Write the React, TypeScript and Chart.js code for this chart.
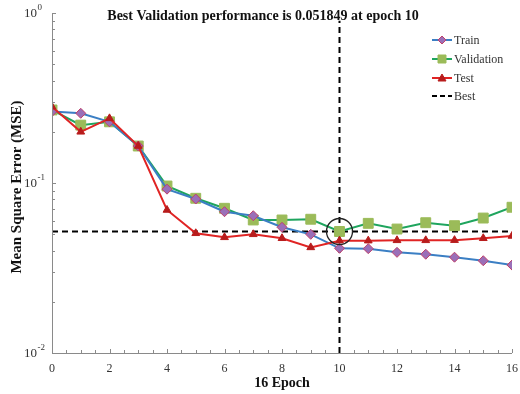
import React, { useEffect, useRef } from "react";
import { Chart, registerables } from "chart.js";
Chart.register(...registerables);

const epochs = [0, 1, 2, 3, 4, 5, 6, 7, 8, 9, 10, 11, 12, 13, 14, 15, 16];
const trainMSE = [0.263, 0.257, 0.229, 0.165, 0.092, 0.0805, 0.0678, 0.0642, 0.0549, 0.0499, 0.0413, 0.0411, 0.0391, 0.0381, 0.0366, 0.0349, 0.0329];
const validationMSE = [0.269, 0.219, 0.229, 0.165, 0.096, 0.0813, 0.071, 0.0606, 0.0606, 0.0612, 0.051849, 0.0579, 0.0536, 0.0584, 0.0561, 0.0622, 0.072];
const testMSE = [0.281, 0.2, 0.24, 0.165, 0.0694, 0.0506, 0.0479, 0.0499, 0.0473, 0.0418, 0.0458, 0.0458, 0.046, 0.046, 0.0461, 0.0473, 0.0488];
const bestEpoch = 10;
const bestValue = 0.051849;
const bestLineTop = 0.9;
const xMin = 0;
const xMax = 16;
const yMin = 0.01;
const yMax = 1;
const xTickLabels = ["0", "2", "4", "6", "8", "10", "12", "14", "16"];
const yDecadeExponents = ["-2", "-1", "0"];
const titleText = "Best Validation performance is 0.051849 at epoch 10";
const xTitle = "16 Epoch";
const yTitle = "Mean Square Error (MSE)";
const legendLabels = ["Train", "Validation", "Test", "Best"];

const SERIF = '"Liberation Serif", "Times New Roman", serif';

const TRAIN_LINE = "#3b7fc4";
const TRAIN_PT = "#9a6fb8";
const TRAIN_PT_BORDER = "#c0406a";
const VAL_LINE = "#1fa55e";
const VAL_PT = "#9bbb59";
const TEST_LINE = "#e02424";
const TEST_PT = "#b81c1c";

const toXY = (arr: number[]) => arr.map((v, i) => ({ x: epochs[i], y: v }));

export default function App() {
  const ref = useRef<HTMLCanvasElement | null>(null);

  useEffect(() => {
    if (!ref.current) return;

    const overlay = {
      id: "overlay",
      afterDraw(chart: any) {
        const ctx = chart.ctx as CanvasRenderingContext2D;
        const xs = chart.scales.x;
        const ys = chart.scales.y;
        const a = chart.chartArea;
        ctx.save();
        // axes
        ctx.strokeStyle = "#8a8a8a";
        ctx.lineWidth = 1;
        ctx.beginPath();
        ctx.moveTo(a.left + 0.5, a.top);
        ctx.lineTo(a.left + 0.5, a.bottom + 0.5);
        ctx.lineTo(a.right, a.bottom + 0.5);
        ctx.stroke();
        // x ticks (inward), every 0.5
        ctx.beginPath();
        for (let t = xMin; t <= xMax + 1e-9; t += 0.5) {
          const px = Math.round(xs.getPixelForValue(t)) + 0.5;
          const len = Math.abs(t % 2) < 1e-9 ? 4 : 3;
          ctx.moveTo(px, a.bottom);
          ctx.lineTo(px, a.bottom - len);
        }
        // y ticks (inward), log minor
        for (let e = -2; e <= 0; e++) {
          for (let m = 1; m <= 9; m++) {
            const v = m * Math.pow(10, e);
            if (v > yMax + 1e-12) break;
            const py = Math.round(ys.getPixelForValue(v)) + 0.5;
            const len = m === 1 ? 4 : 3;
            ctx.moveTo(a.left, py);
            ctx.lineTo(a.left + len, py);
          }
        }
        ctx.stroke();

        // x tick labels
        ctx.fillStyle = "#333";
        ctx.font = `12px ${SERIF}`;
        ctx.textAlign = "center";
        ctx.textBaseline = "middle";
        xTickLabels.forEach((l) => {
          ctx.fillText(l, xs.getPixelForValue(Number(l)), a.bottom + 16);
        });
        // y tick labels 10^e
        yDecadeExponents.forEach((ex) => {
          const py = ys.getPixelForValue(Math.pow(10, Number(ex)));
          ctx.font = `13px ${SERIF}`;
          ctx.textAlign = "right";
          ctx.textBaseline = "middle";
          ctx.fillText("10", 37, py + 1);
          ctx.font = `9px ${SERIF}`;
          ctx.textAlign = "left";
          ctx.fillText(ex, 37.5, py - 5);
        });

        // titles
        ctx.fillStyle = "#111";
        ctx.font = `bold 14px ${SERIF}`;
        ctx.textAlign = "center";
        ctx.textBaseline = "middle";
        ctx.fillText(titleText, 263, 16);
        ctx.fillText(xTitle, 282, a.bottom + 30);
        ctx.save();
        ctx.translate(17.5, 187);
        ctx.rotate(-Math.PI / 2);
        ctx.font = `bold 15px ${SERIF}`;
        ctx.fillText(yTitle, 0, 0);
        ctx.restore();

        // legend
        const lx0 = 432;
        const lx1 = 452;
        const rows = [40, 59, 78, 96];
        ctx.font = `12px ${SERIF}`;
        ctx.textAlign = "left";
        ctx.textBaseline = "middle";
        const drawMarker = (i: number, cx: number, cy: number) => {
          ctx.beginPath();
          if (i === 0) {
            ctx.fillStyle = TRAIN_PT;
            ctx.strokeStyle = TRAIN_PT_BORDER;
            ctx.moveTo(cx, cy - 4);
            ctx.lineTo(cx + 4, cy);
            ctx.lineTo(cx, cy + 4);
            ctx.lineTo(cx - 4, cy);
            ctx.closePath();
          } else if (i === 1) {
            ctx.fillStyle = VAL_PT;
            ctx.strokeStyle = VAL_PT;
            ctx.rect(cx - 4, cy - 4, 8, 8);
          } else {
            ctx.fillStyle = TEST_PT;
            ctx.strokeStyle = TEST_PT;
            ctx.moveTo(cx, cy - 4);
            ctx.lineTo(cx + 4, cy + 3);
            ctx.lineTo(cx - 4, cy + 3);
            ctx.closePath();
          }
          ctx.fill();
          ctx.lineWidth = 1;
          ctx.stroke();
        };
        const lineColors = [TRAIN_LINE, VAL_LINE, TEST_LINE, "#000"];
        legendLabels.forEach((lab, i) => {
          const y = rows[i];
          ctx.strokeStyle = lineColors[i];
          ctx.lineWidth = 2;
          if (i === 3) ctx.setLineDash([5, 3]);
          ctx.beginPath();
          ctx.moveTo(lx0, y);
          ctx.lineTo(lx1, y);
          ctx.stroke();
          ctx.setLineDash([]);
          if (i < 3) drawMarker(i, (lx0 + lx1) / 2, y);
          ctx.fillStyle = "#333";
          ctx.fillText(lab, lx1 + 2, y + 1);
        });
        ctx.restore();
      },
    };

    const chart = new Chart(ref.current, {
      type: "line",
      data: {
        datasets: [
          {
            label: "Best",
            data: [
              { x: xMin, y: bestValue },
              { x: xMax, y: bestValue },
            ],
            borderColor: "#000",
            borderWidth: 2,
            borderDash: [6, 4],
            pointRadius: 0,
            order: 5,
          },
          {
            label: "BestV",
            data: [
              { x: bestEpoch, y: yMin },
              { x: bestEpoch, y: bestLineTop },
            ],
            borderColor: "#000",
            borderWidth: 2,
            borderDash: [6, 4],
            pointRadius: 0,
            order: 5,
          },
          {
            label: "Train",
            data: toXY(trainMSE),
            borderColor: TRAIN_LINE,
            borderWidth: 2,
            pointStyle: "rectRot",
            pointRadius: 5,
            pointBackgroundColor: TRAIN_PT,
            pointBorderColor: TRAIN_PT_BORDER,
            pointBorderWidth: 1,
            order: 2,
          },
          {
            label: "Validation",
            data: toXY(validationMSE),
            borderColor: VAL_LINE,
            borderWidth: 2,
            pointStyle: "rect",
            pointRadius: 7,
            pointBackgroundColor: VAL_PT,
            pointBorderColor: VAL_PT,
            pointBorderWidth: 1,
            order: 3,
          },
          {
            label: "Test",
            data: toXY(testMSE),
            borderColor: TEST_LINE,
            borderWidth: 2,
            pointStyle: "triangle",
            pointRadius: 4.5,
            pointBackgroundColor: TEST_PT,
            pointBorderColor: TEST_PT,
            pointBorderWidth: 1,
            order: 1,
          },
          {
            label: "BestCircle",
            data: [{ x: bestEpoch, y: bestValue }],
            showLine: false,
            pointStyle: "circle",
            pointRadius: 13,
            pointBackgroundColor: "rgba(0,0,0,0)",
            pointBorderColor: "#222",
            pointBorderWidth: 1.3,
            order: 0,
          },
        ],
      },
      options: {
        responsive: false,
        animation: false,
        layout: { autoPadding: false, padding: { top: 13, right: 8, left: 0, bottom: 0 } },
        plugins: {
          legend: { display: false },
          title: { display: false },
          tooltip: { enabled: false },
        },
        scales: {
          x: {
            type: "linear",
            min: xMin,
            max: xMax,
            grid: { display: false },
            border: { display: false },
            ticks: { display: false },
            afterFit: (s: any) => {
              s.height = 41;
            },
          },
          y: {
            type: "logarithmic",
            min: yMin,
            max: yMax,
            grid: { display: false },
            border: { display: false },
            ticks: { display: false },
            afterFit: (s: any) => {
              s.width = 52;
            },
          },
        },
      },
      plugins: [overlay],
    } as any);

    return () => chart.destroy();
  }, []);

  return (
    <div style={{ position: "absolute", left: 0, top: 0, width: 520, height: 394, background: "#fff" }}>
      <canvas ref={ref} width={520} height={394} style={{ display: "block" }} />
    </div>
  );
}
